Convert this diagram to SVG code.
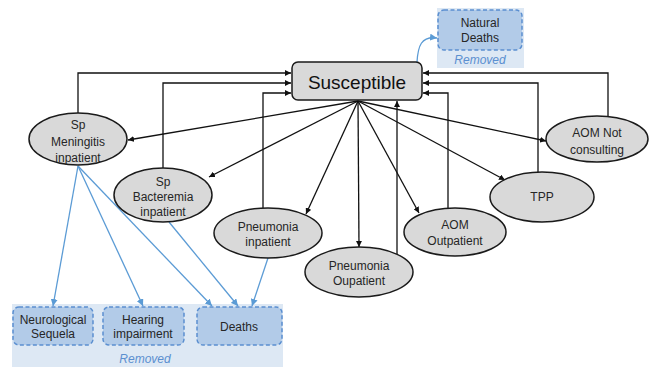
<svg xmlns="http://www.w3.org/2000/svg" width="651" height="367" viewBox="0 0 651 367">
<defs>
<style>
.n{fill:#d9d9d9;stroke:#1a1a1a;stroke-width:1.5}
.t{font-family:"Liberation Sans",Arial,sans-serif;font-size:12px;fill:#262626;text-anchor:middle}
.k{fill:none;stroke:#111;stroke-width:1.3}
.b{fill:none;stroke:#5b9bd5;stroke-width:1.3}
.bg{fill:#dde8f4}
.rb{fill:#b2cbe8;stroke:#5b8fd0;stroke-width:1.5;stroke-dasharray:4,2.5}
.rm{font-family:"Liberation Sans",Arial,sans-serif;font-size:12px;font-style:italic;fill:#5b8fd0;text-anchor:middle}
</style>
<marker id="ak" viewBox="0 0 10 10" refX="10" refY="5" markerWidth="6" markerHeight="6" markerUnits="userSpaceOnUse" orient="auto"><path d="M0,0L10,5L0,10z" fill="#111"/></marker>
<marker id="ab" viewBox="0 0 10 10" refX="10" refY="5" markerWidth="7" markerHeight="7" markerUnits="userSpaceOnUse" orient="auto"><path d="M0,0L10,5L0,10z" fill="#5b9bd5"/></marker>
</defs>
<rect width="651" height="367" fill="#fff"/>
<g id="removed-top">
<rect class="bg" x="437" y="8" width="87" height="60"/>
<rect class="rb" x="438" y="10" width="84" height="40" rx="6"/>
<text class="t" x="480" y="27">Natural</text>
<text class="t" x="480" y="42">Deaths</text>
<text class="rm" x="480" y="64">Removed</text>
</g>
<g id="removed-bottom">
<rect class="bg" x="12" y="304" width="271" height="63"/>
<g id="neuro"><rect class="rb" x="13" y="307" width="80" height="38" rx="6"/>
<text class="t" x="53" y="324">Neurological</text><text class="t" x="53" y="338">Sequela</text></g>
<g id="hearing"><rect class="rb" x="103" y="307" width="81" height="38" rx="6"/>
<text class="t" x="143" y="324">Hearing</text><text class="t" x="143" y="338">impairment</text></g>
<g id="deaths"><rect class="rb" x="197" y="307" width="85" height="38" rx="6"/>
<text class="t" x="239" y="331">Deaths</text></g>
<text class="rm" x="145" y="363">Removed</text>
</g>
<g id="connectors">
<path class="k" d="M78,113V73H291" marker-end="url(#ak)"/>
<path class="k" d="M163,168V83H291" marker-end="url(#ak)"/>
<path class="k" d="M263,208V93H291" marker-end="url(#ak)"/>
<path class="k" d="M608,117V73H423" marker-end="url(#ak)"/>
<path class="k" d="M538,172V83H423" marker-end="url(#ak)"/>
<path class="k" d="M448,208V93H423" marker-end="url(#ak)"/>
<path class="k" d="M397,254V101" marker-end="url(#ak)"/>
<path class="k" d="M358,101L128,140" marker-end="url(#ak)"/>
<path class="k" d="M358,101L209,177" marker-end="url(#ak)"/>
<path class="k" d="M358,101L306,214" marker-end="url(#ak)"/>
<path class="k" d="M358,101L359,247" marker-end="url(#ak)"/>
<path class="k" d="M358,101L419,213" marker-end="url(#ak)"/>
<path class="k" d="M358,101L505,180" marker-end="url(#ak)"/>
<path class="k" d="M358,101L546,141" marker-end="url(#ak)"/>
<path class="b" d="M417,62C418,46 421,36 437,38" marker-end="url(#ab)"/>
<path class="b" d="M78,166L53,306" marker-end="url(#ab)"/>
<path class="b" d="M78,166L143,306" marker-end="url(#ab)"/>
<path class="b" d="M78,166L212,306" marker-end="url(#ab)"/>
<path class="b" d="M169,222L238,306" marker-end="url(#ab)"/>
<path class="b" d="M268,258L252,306" marker-end="url(#ab)"/>
</g>
<g id="susceptible">
<rect class="n" x="292" y="62" width="130" height="38" rx="6"/>
<text x="357" y="89" font-family="Liberation Sans, Arial, sans-serif" font-size="19" fill="#111" text-anchor="middle">Susceptible</text>
</g>
<g id="meningitis"><ellipse class="n" cx="78" cy="139" rx="49" ry="26"/>
<text class="t" x="78" y="129">Sp</text><text class="t" x="78" y="146">Meningitis</text><text class="t" x="78" y="162">inpatient</text></g>
<g id="bacteremia"><ellipse class="n" cx="163" cy="195" rx="49" ry="27"/>
<text class="t" x="163" y="186">Sp</text><text class="t" x="163" y="201">Bacteremia</text><text class="t" x="163" y="216">inpatient</text></g>
<g id="pneu-in"><ellipse class="n" cx="268" cy="233" rx="54" ry="25"/>
<text class="t" x="268" y="231">Pneumonia</text><text class="t" x="268" y="246">inpatient</text></g>
<g id="pneu-out"><ellipse class="n" cx="359" cy="272" rx="54" ry="25"/>
<text class="t" x="359" y="270">Pneumonia</text><text class="t" x="359" y="285">Oupatient</text></g>
<g id="aom-out"><ellipse class="n" cx="455" cy="232" rx="51" ry="24"/>
<text class="t" x="455" y="229">AOM</text><text class="t" x="455" y="245">Outpatient</text></g>
<g id="tpp"><ellipse class="n" cx="542" cy="197" rx="52" ry="25"/>
<text class="t" x="542" y="201">TPP</text></g>
<g id="aom-not"><ellipse class="n" cx="597" cy="139" rx="51" ry="23"/>
<text class="t" x="597" y="137">AOM Not</text><text class="t" x="597" y="154">consulting</text></g>
</svg>
